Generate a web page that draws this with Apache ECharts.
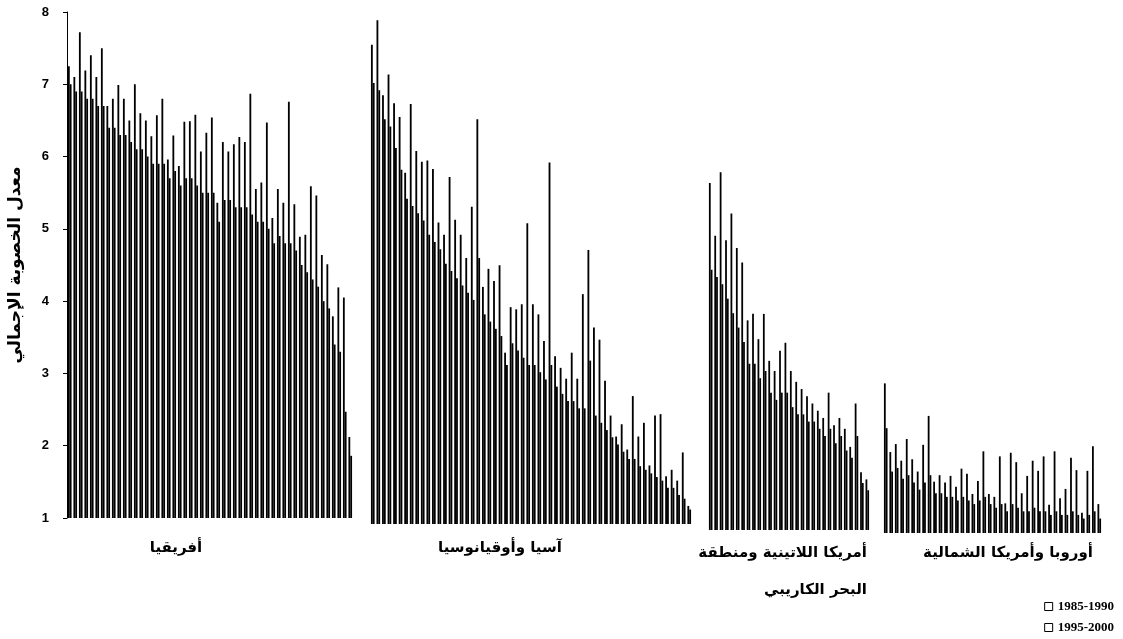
<!DOCTYPE html>
<html>
<head>
<meta charset="utf-8">
<script src="https://cdn.jsdelivr.net/npm/echarts@6/dist/echarts.min.js"></script>
<style>html,body{margin:0;padding:0;background:#fff}#c{width:1123px;height:639px}</style>
</head>
<body>
<div id="c"></div>
<script>
// ---- data (total fertility rate, two periods, per region) ----
const seriesNames = ['1985-1990', '1995-2000'];
const yTicks = [1, 2, 3, 4, 5, 6, 7, 8];
const yTitle = 'معدل الخصوبة الإجمالي';
const groupLabels = ['أفريقيا', 'آسيا وأوقيانوسيا', 'أمريكا اللاتينية ومنطقة\nالبحر الكاريبي', 'أوروبا وأمريكا الشمالية'];

const africa8590 = [7.25, 7.1, 7.72, 7.19, 7.4, 7.1, 7.5, 6.7, 6.8, 6.99, 6.8, 6.5, 7.0, 6.6, 6.5, 6.28, 6.57, 6.8, 5.96, 6.29, 5.87, 6.48, 6.49, 6.58, 6.07, 6.33, 6.54, 5.36, 6.2, 6.07, 6.17, 6.27, 6.2, 6.87, 5.55, 5.64, 6.47, 5.15, 5.55, 5.36, 6.76, 5.34, 4.89, 4.92, 5.59, 5.46, 4.64, 4.51, 3.79, 4.19, 4.05, 2.12];
const africa9500 = [7.0, 6.9, 6.9, 6.8, 6.8, 6.7, 6.7, 6.4, 6.4, 6.3, 6.3, 6.2, 6.1, 6.1, 6.0, 5.9, 5.9, 5.9, 5.7, 5.8, 5.6, 5.7, 5.7, 5.6, 5.5, 5.5, 5.5, 5.1, 5.4, 5.4, 5.3, 5.3, 5.3, 5.2, 5.1, 5.1, 5.0, 4.8, 4.9, 4.8, 4.8, 4.7, 4.5, 4.4, 4.3, 4.2, 4.0, 3.9, 3.4, 3.3, 2.47, 1.86];

const asia8590 = [7.63, 7.97, 6.93, 7.22, 6.82, 6.63, 5.86, 6.81, 6.16, 6.01, 6.03, 5.91, 5.17, 5.0, 5.8, 5.21, 5.0, 4.68, 5.39, 6.6, 4.28, 4.53, 4.36, 4.58, 3.37, 4.0, 3.97, 4.04, 5.16, 4.04, 3.9, 3.53, 6.0, 3.32, 3.16, 3.01, 3.37, 3.01, 4.18, 4.79, 3.72, 3.55, 2.98, 2.5, 2.21, 2.38, 2.03, 2.77, 2.21, 2.4, 1.81, 2.5, 2.52, 1.66, 1.75, 1.6, 1.99, 1.25];
const asia9500 = [7.1, 7.0, 6.6, 6.5, 6.2, 5.9, 5.5, 5.4, 5.3, 5.2, 5.0, 4.9, 4.8, 4.6, 4.5, 4.4, 4.3, 4.2, 4.1, 4.68, 3.9, 3.8, 3.7, 3.6, 3.2, 3.5, 3.4, 3.3, 3.2, 3.2, 3.1, 3.0, 3.2, 2.9, 2.8, 2.7, 2.7, 2.6, 2.6, 3.26, 2.5, 2.4, 2.3, 2.2, 2.1, 2.0, 1.9, 1.9, 1.8, 1.75, 1.7, 1.65, 1.6, 1.5, 1.5, 1.4, 1.35, 1.2];

const latam8590 = [5.8, 5.07, 5.95, 5.01, 5.38, 4.9, 4.7, 3.9, 3.99, 3.64, 3.99, 3.34, 3.2, 3.48, 3.59, 3.2, 3.05, 2.95, 2.85, 2.75, 2.65, 2.55, 2.9, 2.45, 2.55, 2.4, 2.15, 2.75, 1.8, 1.7];
const latam9500 = [4.6, 4.5, 4.4, 4.2, 4.0, 3.8, 3.6, 3.3, 3.3, 3.1, 3.2, 2.9, 2.8, 2.9, 2.9, 2.7, 2.6, 2.6, 2.5, 2.5, 2.4, 2.3, 2.4, 2.2, 2.3, 2.1, 2.0, 2.3, 1.65, 1.55];

const europe8590 = [3.07, 2.12, 2.23, 2.0, 2.3, 2.02, 1.85, 2.22, 2.62, 1.71, 1.8, 1.7, 1.79, 1.64, 1.89, 1.82, 1.54, 1.72, 2.13, 1.54, 1.5, 2.06, 1.41, 2.11, 1.98, 1.55, 1.79, 2.0, 1.86, 2.06, 1.39, 2.13, 1.48, 1.61, 2.04, 1.87, 1.28, 1.86, 2.2, 1.4];
const europe9500 = [2.45, 1.85, 1.9, 1.75, 1.8, 1.7, 1.6, 1.7, 1.8, 1.55, 1.55, 1.5, 1.5, 1.45, 1.5, 1.45, 1.4, 1.45, 1.5, 1.4, 1.35, 1.4, 1.3, 1.4, 1.35, 1.3, 1.3, 1.35, 1.3, 1.3, 1.25, 1.3, 1.25, 1.25, 1.3, 1.25, 1.2, 1.25, 1.3, 1.2];

const groups = [
  [africa8590, africa9500],
  [asia8590, asia9500],
  [latam8590, latam9500],
  [europe8590, europe9500]
];

// ---- layout ----
const gridBoxes = [
  {left: 67, top: 12, width: 286, height: 506},
  {left: 370, top: 18, width: 322, height: 506},
  {left: 708, top: 24, width: 162, height: 506},
  {left: 883, top: 27, width: 219, height: 506}
];
const arabicFont = 'bold 15px "DejaVu Sans"';

const xAxis = [], yAxis = [], series = [];
groups.forEach((g, i) => {
  xAxis.push({
    type: 'category', gridIndex: i, show: false,
    data: g[0].map((_, k) => String(k + 1))
  });
  if (i === 0) {
    yAxis.push({
      type: 'value', gridIndex: 0, min: yTicks[0], max: yTicks[yTicks.length - 1], interval: 1,
      axisLine: {show: true, lineStyle: {color: '#000', width: 1}},
      axisTick: {show: true, length: 4, lineStyle: {color: '#000'}},
      splitLine: {show: false},
      axisLabel: {color: '#000', fontFamily: '"Liberation Sans", Arial', fontWeight: 'bold', fontSize: 13, margin: 18},
      name: yTitle, nameLocation: 'middle', nameRotate: 90, nameGap: 43,
      nameTextStyle: {color: '#000', fontFamily: '"DejaVu Sans"', fontWeight: 'bold', fontSize: 17}
    });
  } else {
    yAxis.push({type: 'value', gridIndex: i, min: yTicks[0], max: yTicks[yTicks.length - 1], interval: 1, show: false, splitLine: {show: false}});
  }
  g.forEach((vals, s) => {
    series.push({
      type: 'bar', name: seriesNames[s], xAxisIndex: i, yAxisIndex: i,
      data: vals, barWidth: '33%', barGap: '0%',
      itemStyle: {color: '#000'}, silent: true, animation: false
    });
  });
});

const chart = echarts.init(document.getElementById('c'), null, {renderer: 'canvas'});
chart.setOption({
  animation: false,
  backgroundColor: '#fff',
  grid: gridBoxes,
  xAxis, yAxis, series,
  legend: {
    orient: 'vertical', right: 9, top: 598, height: 41, itemWidth: 8, itemHeight: 8, itemGap: 4, icon: 'rect',
    padding: 0, selectedMode: false,
    data: seriesNames.map(n => ({name: n, itemStyle: {color: '#fff', borderColor: '#000', borderWidth: 1}})),
    textStyle: {fontFamily: '"Liberation Serif", serif', fontWeight: 'bold', fontSize: 13, color: '#000', lineHeight: 17}
  },
  graphic: [
    {type: 'text', x: 176, y: 548, style: {text: groupLabels[0], font: arabicFont, fill: '#000', align: 'center', verticalAlign: 'middle'}},
    {type: 'text', x: 500, y: 548, style: {text: groupLabels[1], font: arabicFont, fill: '#000', align: 'center', verticalAlign: 'middle'}},
    {type: 'text', x: 867, y: 535, style: {text: groupLabels[2], font: arabicFont, fill: '#000', align: 'right', verticalAlign: 'top', lineHeight: 37}},
    {type: 'text', x: 1008, y: 553, style: {text: groupLabels[3], font: arabicFont, fill: '#000', align: 'center', verticalAlign: 'middle'}}
  ]
});
</script>
</body>
</html>
